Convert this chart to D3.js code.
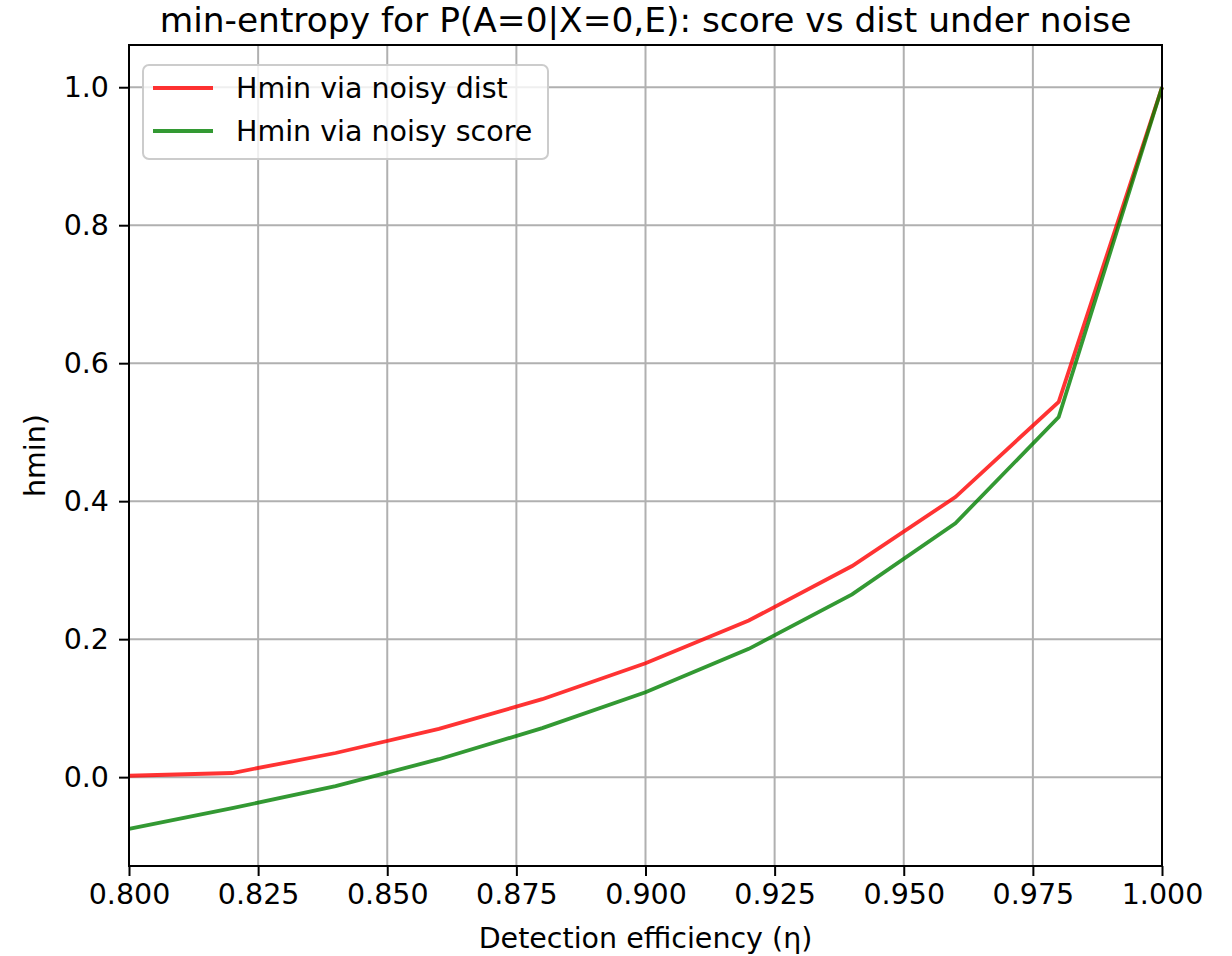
<!DOCTYPE html>
<html>
<head>
<meta charset="utf-8">
<script src="https://cdn.jsdelivr.net/npm/d3@7"></script>
<style>
  body { margin: 0; background: #fff; }
  text { font-family: "DejaVu Sans", sans-serif; fill: #000; }
</style>
</head>
<body>
<div id="chart"></div>
<script>
// Detection efficiency values
const eta = [0.80, 0.82, 0.84, 0.86, 0.88, 0.90, 0.92, 0.94, 0.96, 0.98, 1.00];
// Hmin via noisy dist
const hminDist = [0.002, 0.006, 0.035, 0.070, 0.113, 0.165, 0.227, 0.306, 0.406, 0.544, 1.0];
// Hmin via noisy score
const hminScore = [-0.075, -0.045, -0.013, 0.026, 0.071, 0.123, 0.186, 0.265, 0.368, 0.522, 1.0];

const xTicks = [0.800, 0.825, 0.850, 0.875, 0.900, 0.925, 0.950, 0.975, 1.000];
const yTicks = [0.0, 0.2, 0.4, 0.6, 0.8, 1.0];

const W = 1232, H = 956;
const margin = { top: 45, right: 70, bottom: 90, left: 129 };
const width = W - margin.left - margin.right,
    height = H - margin.top - margin.bottom;
const fs = "28.5px";

const svg = d3.select("#chart").append("svg")
    .attr("width", W)
    .attr("height", H);

const g = svg.append("g")
    .attr("transform", `translate(${margin.left},${margin.top})`);

const x = d3.scaleLinear().domain([0.8, 1.0]).range([0, width]);
const y = d3.scaleLinear().domain([-0.1288, 1.0612]).range([height, 0]);

// grid
g.append("g").selectAll("line").data(xTicks).enter().append("line")
    .attr("x1", d => x(d)).attr("x2", d => x(d))
    .attr("y1", 0).attr("y2", height)
    .attr("stroke", "#b0b0b0").attr("stroke-width", 2);
g.append("g").selectAll("line").data(yTicks).enter().append("line")
    .attr("y1", d => y(d)).attr("y2", d => y(d))
    .attr("x1", 0).attr("x2", width)
    .attr("stroke", "#b0b0b0").attr("stroke-width", 2);

// lines
const line = d3.line().x((d, i) => x(eta[i])).y(d => y(d));
g.append("path").datum(hminDist)
    .attr("d", line).attr("fill", "none")
    .attr("stroke", "red").attr("stroke-opacity", 0.8).attr("stroke-width", 3.8);
g.append("path").datum(hminScore)
    .attr("d", line).attr("fill", "none")
    .attr("stroke", "green").attr("stroke-opacity", 0.8).attr("stroke-width", 3.8);

// axes
const xAxis = g.append("g")
    .attr("transform", `translate(0,${height})`)
    .call(d3.axisBottom(x).tickValues(xTicks).tickFormat(d3.format(".3f")).tickSize(10).tickPadding(8));
const yAxis = g.append("g")
    .call(d3.axisLeft(y).tickValues(yTicks).tickFormat(d3.format(".1f")).tickSize(10).tickPadding(10));
[xAxis, yAxis].forEach(a => {
    a.select(".domain").remove();
    a.selectAll("line").attr("stroke", "#000").attr("stroke-width", 2);
    a.selectAll("text").style("font-size", fs).style("font-family", "DejaVu Sans, sans-serif").attr("fill", "#000");
});

// frame
g.append("rect")
    .attr("width", width).attr("height", height)
    .attr("fill", "none").attr("stroke", "#000").attr("stroke-width", 2);

// title and labels
svg.append("text")
    .attr("x", margin.left + width / 2).attr("y", 32)
    .attr("text-anchor", "middle")
    .style("font-size", "34.4px")
    .text("min-entropy for P(A=0|X=0,E): score vs dist under noise");
svg.append("text")
    .attr("x", margin.left + width / 2).attr("y", 948)
    .attr("text-anchor", "middle")
    .style("font-size", fs)
    .text("Detection efficiency (η)");
svg.append("text")
    .attr("transform", `translate(45,${margin.top + height / 2}) rotate(-90)`)
    .attr("text-anchor", "middle")
    .style("font-size", fs)
    .text("hmin)");

// legend
const series = [
    { name: "Hmin via noisy dist", color: "red" },
    { name: "Hmin via noisy score", color: "green" }
];
const lg = g.append("g").attr("transform", "translate(14,20)");
lg.append("rect")
    .attr("width", 405).attr("height", 94).attr("rx", 6)
    .attr("fill", "#fff").attr("fill-opacity", 0.8)
    .attr("stroke", "#cccccc").attr("stroke-width", 2);
series.forEach((s, i) => {
    const row = lg.append("g").attr("transform", `translate(0,${23 + i * 43})`);
    row.append("line")
        .attr("x1", 10).attr("x2", 70)
        .attr("stroke", s.color).attr("stroke-opacity", 0.8).attr("stroke-width", 3.8);
    row.append("text")
        .attr("x", 93).attr("y", 10)
        .style("font-size", fs)
        .text(s.name);
});
</script>
</body>
</html>
